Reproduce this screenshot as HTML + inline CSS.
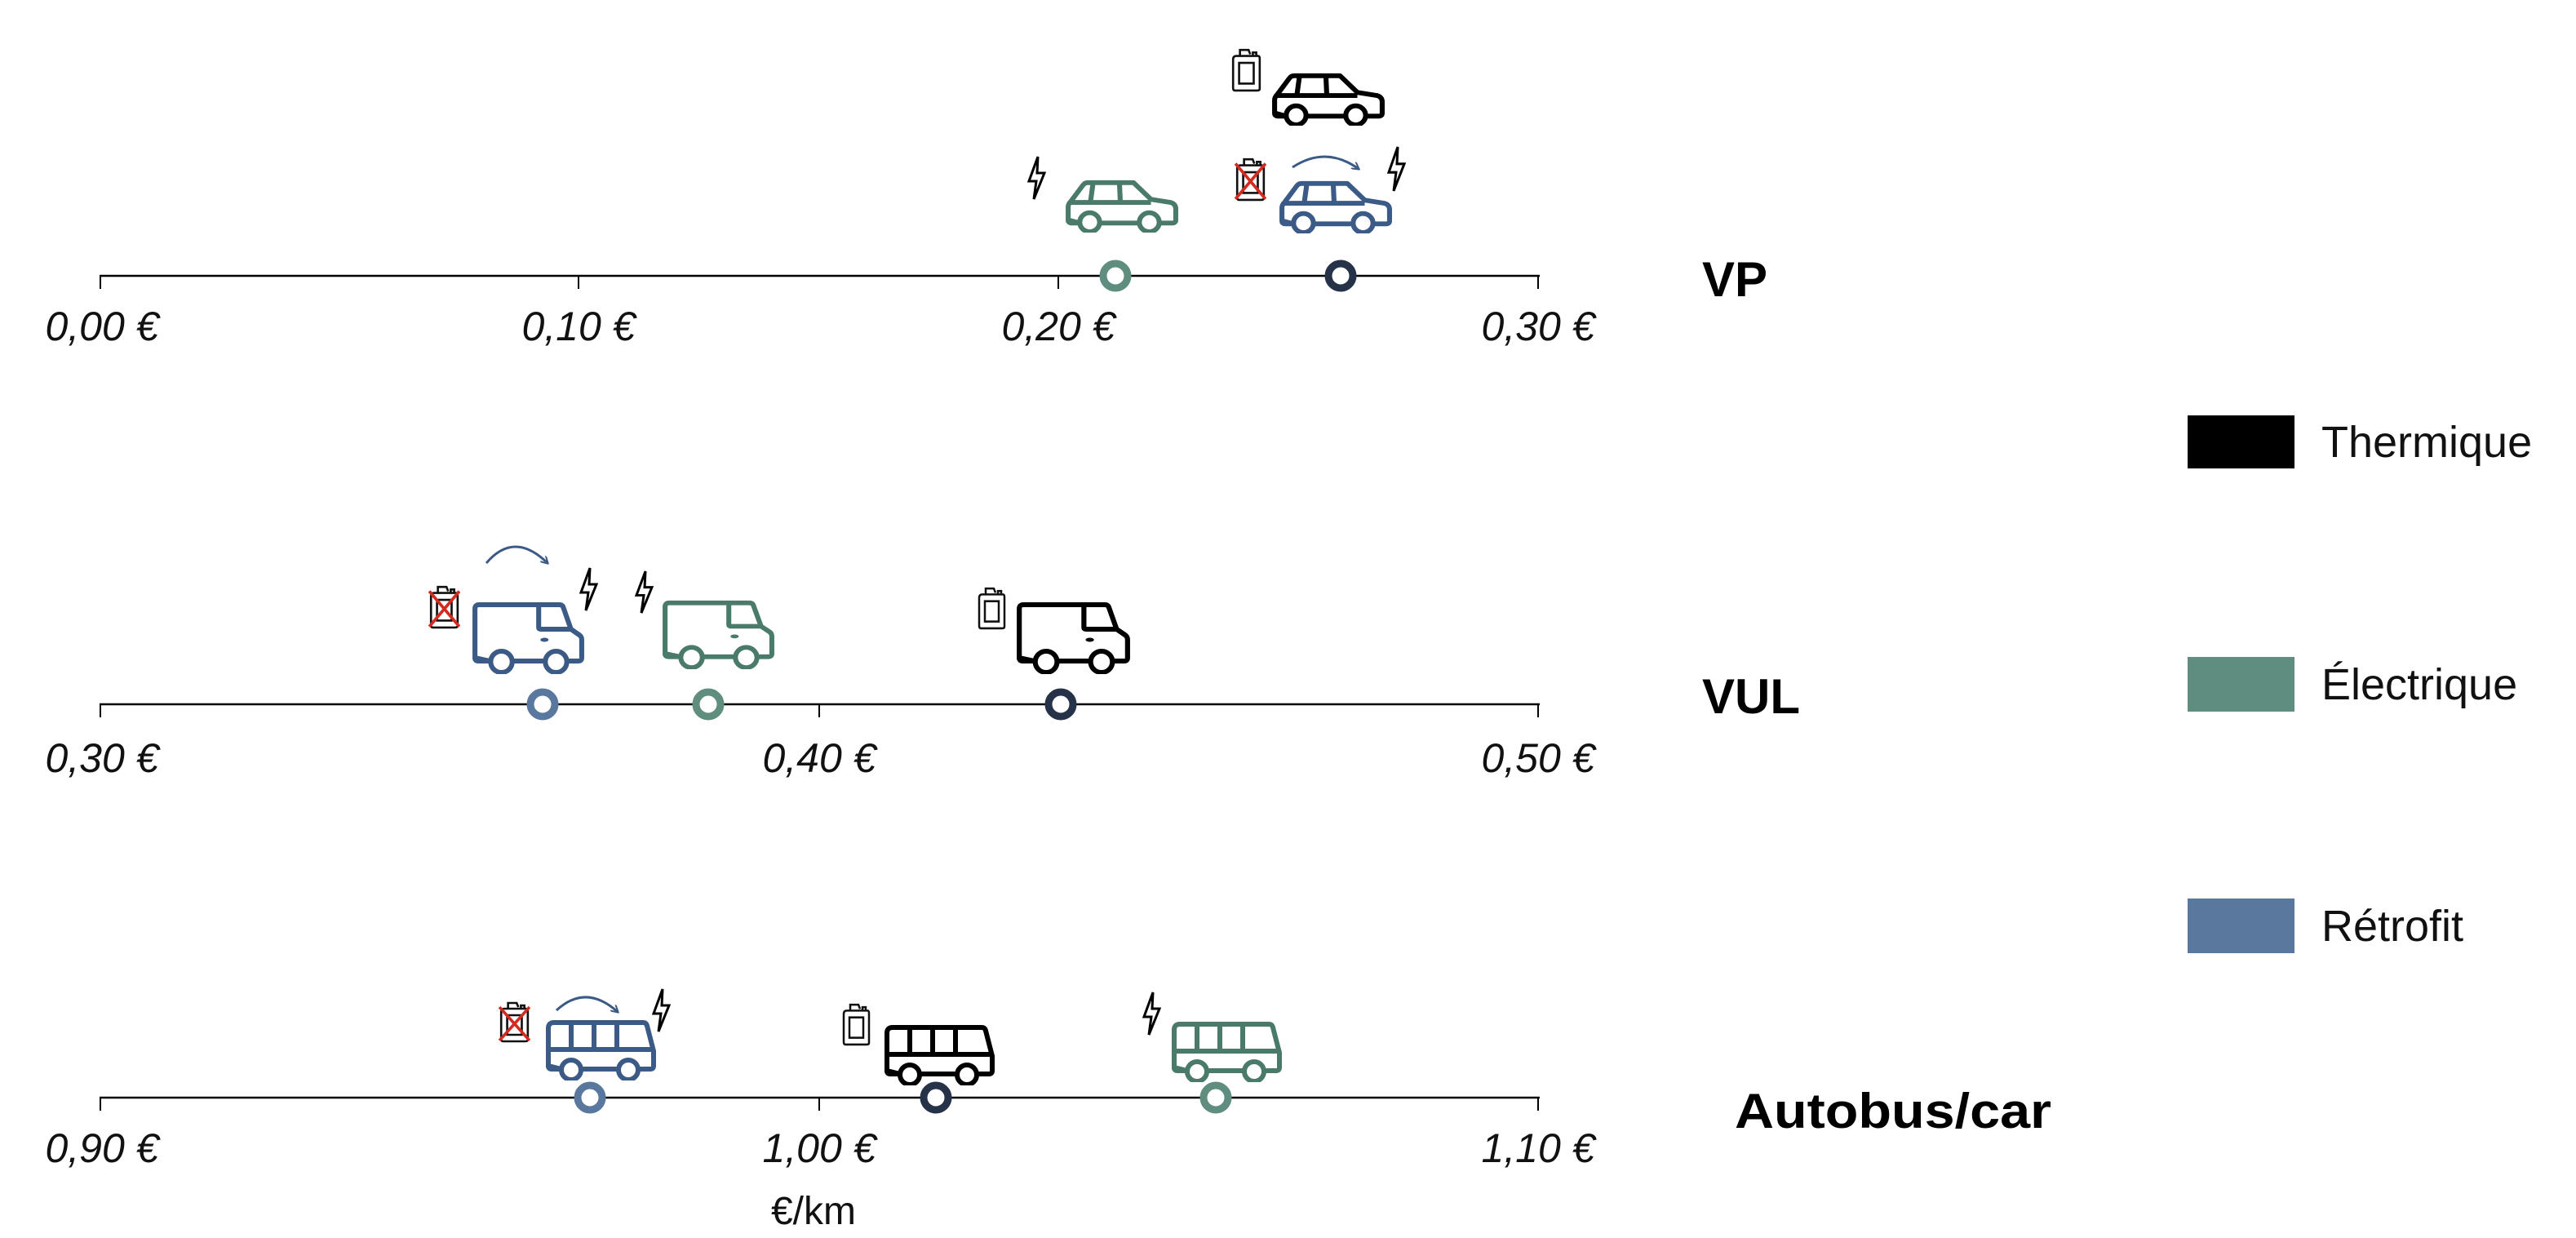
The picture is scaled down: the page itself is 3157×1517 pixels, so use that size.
<!DOCTYPE html>
<html><head><meta charset="utf-8"><style>
html,body{margin:0;padding:0;background:#fff;}
svg{display:block;}
text{font-family:"Liberation Sans",sans-serif;}
.ax{font-style:italic;font-size:50px;fill:#111;}
.cat{font-weight:bold;font-size:60px;fill:#000;}
.leg{font-size:54px;fill:#111;}
</style></head><body>
<svg width="3157" height="1517" viewBox="0 0 3157 1517" xmlns="http://www.w3.org/2000/svg">
<defs>
<symbol id="car" viewBox="0 0 140 70" preserveAspectRatio="none">
<path d="M6,54 V38 Q6,34 9,31 L24,10 Q26,7 30,7 H85 L106,28 L130,32 Q136,34 136,40 V54 Q136,58 132,58 H116 M91,58 H45 M20,58 H10 Q6,58 6,54 Z M8,32 H106 M36,8 L33,31 M68,8 L69,31" fill="none" stroke="currentColor" stroke-width="6" stroke-linejoin="round"/>
<circle cx="32" cy="57" r="12" fill="#fff" stroke="currentColor" stroke-width="6"/>
<circle cx="104" cy="57" r="12" fill="#fff" stroke="currentColor" stroke-width="6"/>
</symbol>
<symbol id="van" viewBox="0 0 140 90" preserveAspectRatio="none">
<path d="M6,72 V10 Q6,5 11,5 H108 Q112,5 113,9 L122,35 L132,42 Q135,44 135,48 V70 Q135,74 131,74 H118 M90,74 H52 M24,74 H10 Q6,74 6,70 Z M83,6 V33 Q83,35 86,35 H121" fill="none" stroke="currentColor" stroke-width="6" stroke-linejoin="round"/>
<ellipse cx="90" cy="48" rx="5" ry="2.5" fill="currentColor"/>
<circle cx="38" cy="75" r="13" fill="#fff" stroke="currentColor" stroke-width="6"/>
<circle cx="104" cy="75" r="13" fill="#fff" stroke="currentColor" stroke-width="6"/>
</symbol>
<symbol id="bus" viewBox="0 0 140 76" preserveAspectRatio="none">
<path d="M6,60 V12 Q6,5 13,5 H122 Q126,5 127,9 L135,40 V58 Q135,62 131,62 H116 M92,62 H46 M22,62 H10 Q6,62 6,58 Z M6,38 H135 M34,5 V38 M62,5 V38 M90,5 V38" fill="none" stroke="currentColor" stroke-width="6" stroke-linejoin="round"/>
<circle cx="34" cy="63" r="12" fill="#fff" stroke="currentColor" stroke-width="6"/>
<circle cx="104" cy="63" r="12" fill="#fff" stroke="currentColor" stroke-width="6"/>
</symbol>
<symbol id="jerry" viewBox="0 0 38 52" preserveAspectRatio="none">
<path d="M4,14 Q4,10 8,10 H33 Q35,10 35,13 V48 Q35,50 32,50 H6 Q4,50 4,47 Z M12,10 V3 H22 L24,8 M27,10 V6 H31 V10" fill="none" stroke="#111" stroke-width="2.5"/>
<rect x="11" y="18" width="17" height="24" fill="none" stroke="#111" stroke-width="2.5"/>
</symbol>
<symbol id="xjerry" viewBox="0 0 38 52" preserveAspectRatio="none">
<use href="#jerry" x="0" y="0" width="38" height="52"/>
<path d="M2,8 L37,49 M37,8 L2,49" stroke="#d42a20" stroke-width="3.5"/>
</symbol>
<symbol id="bolt" viewBox="0 0 24 56" preserveAspectRatio="none">
<path d="M14,2 L3,32 H12 L9,54 L22,22 H13 Z" fill="#fff" stroke="#000" stroke-width="3" stroke-linejoin="miter"/>
</symbol>
<marker id="ah" viewBox="0 0 10 10" refX="8" refY="5" markerWidth="10" markerHeight="10" orient="auto" markerUnits="userSpaceOnUse"><path d="M0,0 L9,5 L0,10" fill="none" stroke="#3b5b86" stroke-width="2"/></marker>
</defs>

<g stroke="#000" stroke-width="2.5">
<line x1="122" y1="338" x2="1887" y2="338"/>
<line x1="122" y1="863" x2="1887" y2="863"/>
<line x1="122" y1="1345" x2="1887" y2="1345"/>
</g>
<g stroke="#000" stroke-width="2">
<line x1="123" y1="338" x2="123" y2="354"/><line x1="709" y1="338" x2="709" y2="354"/><line x1="1297" y1="338" x2="1297" y2="354"/><line x1="1885" y1="338" x2="1885" y2="354"/>
<line x1="123" y1="863" x2="123" y2="879"/><line x1="1004" y1="863" x2="1004" y2="879"/><line x1="1885" y1="863" x2="1885" y2="879"/>
<line x1="123" y1="1345" x2="123" y2="1361"/><line x1="1004" y1="1345" x2="1004" y2="1361"/><line x1="1885" y1="1345" x2="1885" y2="1361"/>
</g>
<g class="ax" text-anchor="middle">
<text x="125" y="417">0,00 €</text><text x="709" y="417">0,10 €</text><text x="1297" y="417">0,20 €</text><text x="1885" y="417">0,30 €</text>
<text x="125" y="946">0,30 €</text><text x="1004" y="946">0,40 €</text><text x="1885" y="946">0,50 €</text>
<text x="125" y="1424">0,90 €</text><text x="1004" y="1424">1,00 €</text><text x="1885" y="1424">1,10 €</text>
</g>
<text x="997" y="1500" font-size="48" text-anchor="middle" fill="#111" style="font-family:'Liberation Sans',sans-serif">€/km</text>

<g fill="#fff" stroke-width="9">
<circle cx="1367" cy="338" r="15" stroke="#5f8d80"/>
<circle cx="1643" cy="338" r="15" stroke="#263247"/>
<circle cx="665" cy="863" r="15" stroke="#5a779e"/>
<circle cx="868" cy="863" r="15" stroke="#5f8d80"/>
<circle cx="1300" cy="863" r="15" stroke="#263247"/>
<circle cx="723" cy="1345" r="15" stroke="#5a779e"/>
<circle cx="1147" cy="1345" r="15" stroke="#263247"/>
<circle cx="1490" cy="1345" r="15" stroke="#5f8d80"/>
</g>

<use href="#jerry" x="1507" y="58" width="40" height="55"/>
<use href="#car" x="1556" y="86" width="142" height="68" style="color:#000"/>
<use href="#bolt" x="1258" y="190" width="24" height="56"/>
<use href="#car" x="1303" y="217" width="142" height="68" style="color:#4a7a6a"/>
<use href="#xjerry" x="1512" y="192" width="40" height="55"/>
<path d="M1584,205 Q1625,178 1665,207" fill="none" stroke="#3b5b86" stroke-width="3" marker-end="url(#ah)"/>
<use href="#bolt" x="1699" y="178" width="24" height="58"/>
<use href="#car" x="1565" y="218" width="142" height="68" style="color:#3b5b86"/>

<use href="#xjerry" x="524" y="716" width="40" height="55"/>
<path d="M596,690 Q630,650 671,690" fill="none" stroke="#3b5b86" stroke-width="3" marker-end="url(#ah)"/>
<use href="#bolt" x="709" y="694" width="24" height="56"/>
<use href="#van" x="576" y="736" width="142" height="90" style="color:#3b5b86"/>
<use href="#bolt" x="777" y="698" width="24" height="55"/>
<use href="#van" x="809" y="734" width="142" height="86" style="color:#4a7a6a"/>
<use href="#jerry" x="1196" y="718" width="38" height="54"/>
<use href="#van" x="1243" y="736" width="144" height="90" style="color:#000"/>

<use href="#xjerry" x="610" y="1226" width="40" height="52"/>
<path d="M682,1238 Q718,1205 757,1240" fill="none" stroke="#3b5b86" stroke-width="3" marker-end="url(#ah)"/>
<use href="#bolt" x="798" y="1210" width="24" height="56"/>
<use href="#bus" x="666" y="1248" width="140" height="76" style="color:#3b5b86"/>
<use href="#jerry" x="1030" y="1228" width="38" height="54"/>
<use href="#bus" x="1081" y="1254" width="140" height="76" style="color:#000"/>
<use href="#bolt" x="1399" y="1214" width="24" height="56"/>
<use href="#bus" x="1433" y="1250" width="140" height="76" style="color:#4a7a6a"/>

<text class="cat" x="2086" y="363">VP</text>
<text class="cat" x="2086" y="874">VUL</text>
<text class="cat" x="2126" y="1382" textLength="388" lengthAdjust="spacingAndGlyphs">Autobus/car</text>

<rect x="2681" y="509" width="131" height="65" fill="#000"/>
<rect x="2681" y="805" width="131" height="67" fill="#5f8d80"/>
<rect x="2681" y="1101" width="131" height="67" fill="#5a779e"/>
<text class="leg" x="2845" y="560">Thermique</text>
<text class="leg" x="2845" y="857">Électrique</text>
<text class="leg" x="2845" y="1153">Rétrofit</text>
</svg>
</body></html>
